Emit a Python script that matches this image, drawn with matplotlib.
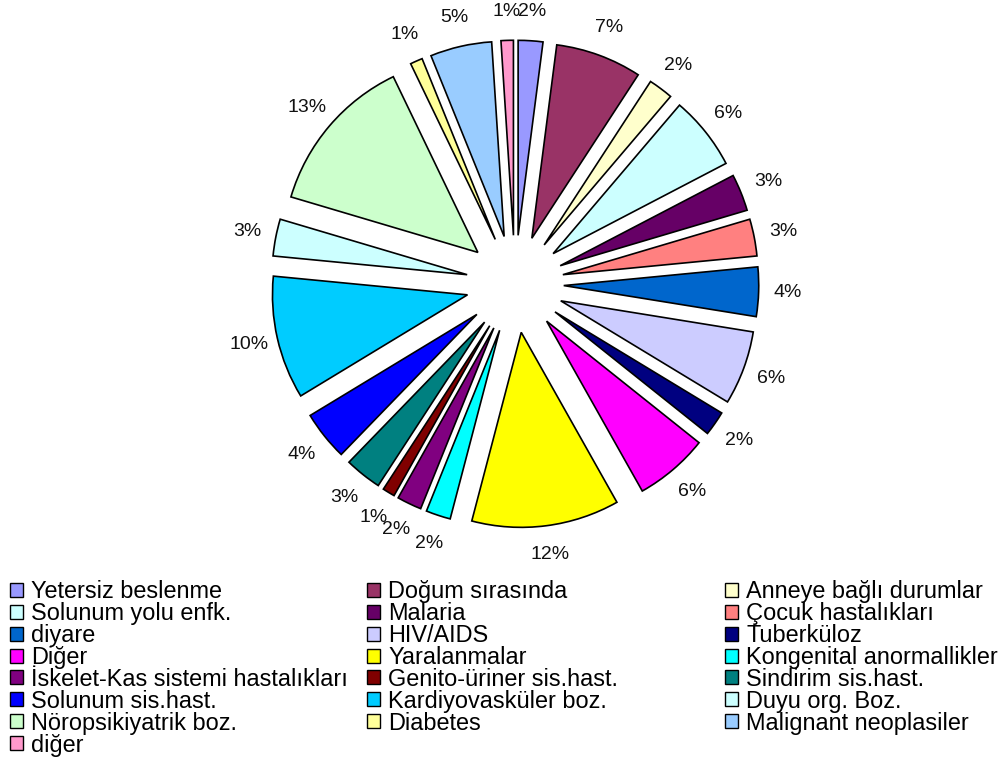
import matplotlib
matplotlib.use("Agg")
import matplotlib.pyplot as plt
from matplotlib.patches import Patch

plt.rcParams['font.family'] = ['Liberation Sans', 'DejaVu Sans']

# share of deaths by cause, percent
causes = [
    'Yetersiz beslenme', 'Doğum sırasında', 'Anneye bağlı durumlar',
    'Solunum yolu enfk.', 'Malaria', 'Çocuk hastalıkları',
    'diyare', 'HIV/AIDS', 'Tuberküloz',
    'Diğer', 'Yaralanmalar', 'Kongenital anormallikler',
    'İskelet-Kas sistemi hastalıkları', 'Genito-üriner sis.hast.', 'Sindirim sis.hast.',
    'Solunum sis.hast.', 'Kardiyovasküler boz.', 'Duyu org. Boz.',
    'Nöropsikiyatrik boz.', 'Diabetes', 'Malignant neoplasiler',
    'diğer',
]
shares = [2, 7, 2, 6, 3, 3, 4, 6, 2, 6, 12, 2, 2, 1, 3, 4, 10, 3, 13, 1, 5, 1]
colors = [
    '#9999FF', '#993366', '#FFFFCC', '#CCFFFF', '#660066', '#FF8080',
    '#0066CC', '#CCCCFF', '#000080', '#FF00FF', '#FFFF00', '#00FFFF',
    '#800080', '#800000', '#008080', '#0000FF', '#00CCFF', '#CCFFFF',
    '#CCFFCC', '#FFFF99', '#99CCFF', '#FF99CC',
]

W, H = 999, 762
fig = plt.figure(figsize=(W / 100, H / 100), dpi=100)

# pie axes: 600px square around the pie centre, radius 1 -> 195px
cx, cy, half, rad = 515, 284, 300, 195
ax = fig.add_axes([(cx - half) / W, (H - cy - half) / H, 2 * half / W, 2 * half / H])
ax.pie(shares, colors=colors, startangle=90, counterclock=False,
       explode=[0.25] * len(shares), radius=1,
       autopct='%1.0f%%', pctdistance=1.15,
       wedgeprops=dict(edgecolor='black', linewidth=1.2),
       textprops=dict(fontsize=14, color='#111111'))
ax.set_xlim(-half / rad, half / rad)
ax.set_ylim(-half / rad, half / rad)
ax.set_aspect('equal')
ax.axis('off')

# three legend columns, filled row by row
handles = [Patch(facecolor=c, edgecolor='black', linewidth=1.0) for c in colors]
col_x = [10, 367, 725]
for k in range(3):
    idx = list(range(k, len(causes), 3))
    fig.legend([handles[i] for i in idx], [causes[i] for i in idx],
               loc='upper left', bbox_to_anchor=(col_x[k] / W, 1 - 580 / H),
               frameon=False, fontsize=16.9, handlelength=0.54,
               handleheight=0.54, handletextpad=0.36, labelspacing=-0.045,
               borderpad=0, borderaxespad=0)

fig.savefig('out.png', dpi=100)
